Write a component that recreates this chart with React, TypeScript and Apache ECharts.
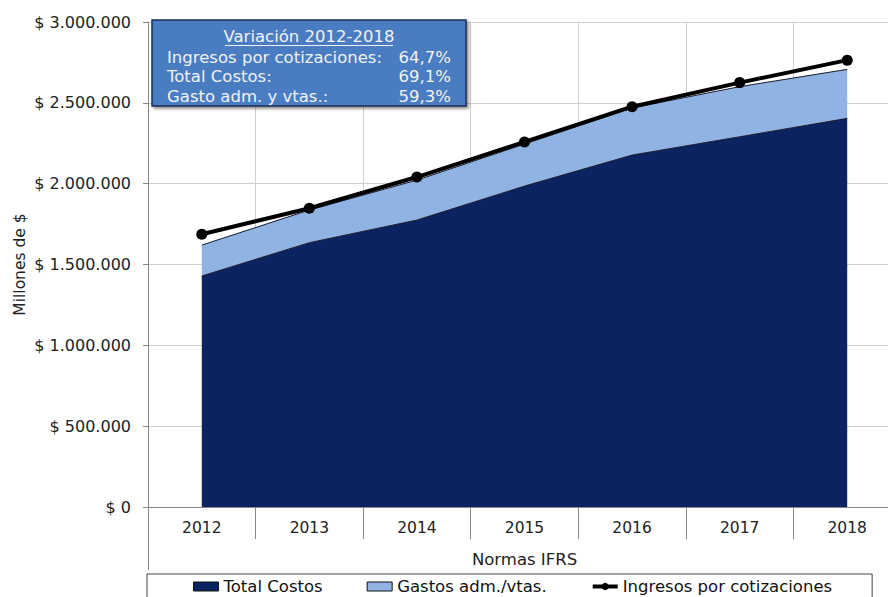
import React, { useEffect, useRef } from "react";
import * as echarts from "echarts";

const categories = ["2012", "2013", "2014", "2015", "2016", "2017", "2018"];
const totalCostos = [1429000, 1635000, 1775000, 1985000, 2177000, 2290000, 2404000];
const gastosAdm = [191000, 202000, 247000, 260000, 291000, 310000, 303000];
const ingresos = [1687000, 1848000, 2041000, 2258000, 2476000, 2625000, 2764000];
const boxTitle = "Variación 2012-2018";
const boxLabels = ["Ingresos por cotizaciones:", "Total Costos:", "Gasto adm. y vtas.:"];
const boxValues = ["64,7%", "69,1%", "59,3%"];

const FONT = "DejaVu Sans, Verdana, sans-serif";
const fmt = (v: number) => "$ " + String(v).replace(/\B(?=(\d{3})+(?!\d))/g, ".");

export default function App() {
  const ref = useRef<HTMLDivElement>(null);
  useEffect(() => {
    document.body.style.margin = "0";
    const chart = echarts.init(ref.current!, null, { renderer: "svg" });
    const boxRows: any[] = boxLabels.flatMap((l, i) => [
      {
        type: "text",
        x: 167,
        y: 57 + i * 19.5,
        style: { text: l, fill: "#f2f2f2", font: `16.5px ${FONT}`, textVerticalAlign: "middle" },
      },
      {
        type: "text",
        x: 451,
        y: 57 + i * 19.5,
        style: { text: boxValues[i], fill: "#f2f2f2", font: `16.5px ${FONT}`, textAlign: "right", textVerticalAlign: "middle" },
      },
    ]);
    chart.setOption({
      animation: false,
      grid: { left: 148, top: 22, width: 753, height: 485, containLabel: false, outerBoundsMode: "none" },
      xAxis: {
        type: "category",
        data: categories,
        boundaryGap: true,
        axisLine: { lineStyle: { color: "#868686", width: 1 } },
        axisTick: { show: true, interval: 0, length: 32, lineStyle: { color: "#868686" } },
        axisLabel: { interval: 0, margin: 13, color: "#222", fontSize: 15.5, fontFamily: FONT },
        splitLine: { show: true, interval: 0, lineStyle: { color: "#cfcfcf" } },
        name: "Normas IFRS",
        nameLocation: "middle",
        nameGap: 44,
        nameMoveOverlap: false,
        nameTextStyle: { color: "#222", fontSize: 16.5, fontFamily: FONT },
      },
      yAxis: {
        type: "value",
        min: 0,
        max: 3000000,
        interval: 500000,
        axisLine: { show: true, lineStyle: { color: "#868686" } },
        axisTick: { show: true, length: 5, lineStyle: { color: "#868686" } },
        axisLabel: { formatter: fmt, margin: 17, color: "#222", fontSize: 16, fontFamily: FONT },
        splitLine: { show: true, lineStyle: { color: "#cfcfcf" } },
        name: "Millones de $",
        nameLocation: "middle",
        nameGap: 120,
        nameMoveOverlap: false,
        nameTextStyle: { color: "#222", fontSize: 15.5, fontFamily: FONT },
      },
      legend: {
        left: 147,
        top: 574,
        padding: [4, 40, 10, 46],
        itemGap: 44,
        itemWidth: 25,
        itemHeight: 9,
        borderColor: "#444",
        borderWidth: 1,
        textStyle: { color: "#111", fontSize: 16.5, fontFamily: FONT },
        data: [
          { name: "Total Costos", icon: "rect", itemStyle: { borderColor: "#111", borderWidth: 1 } },
          { name: "Gastos adm./vtas.", icon: "rect", itemStyle: { borderColor: "#111", borderWidth: 1 } },
          { name: "Ingresos por cotizaciones", lineStyle: { width: 4 } },
        ],
      },
      series: [
        {
          name: "Total Costos",
          type: "line",
          stack: "costos",
          data: totalCostos,
          showSymbol: false,
          symbol: "none",
          color: "#0b2360",
          lineStyle: { color: "#1a1a2a", width: 1 },
          areaStyle: { color: "#0b2360", opacity: 1 },
        },
        {
          name: "Gastos adm./vtas.",
          type: "line",
          stack: "costos",
          data: gastosAdm,
          showSymbol: false,
          symbol: "none",
          color: "#8fb4e3",
          lineStyle: { color: "#1a1a2a", width: 1 },
          areaStyle: { color: "#8fb4e3", opacity: 1 },
        },
        {
          name: "Ingresos por cotizaciones",
          type: "line",
          data: ingresos,
          symbol: "circle",
          symbolSize: 11,
          color: "#000",
          lineStyle: { color: "#000", width: 4 },
          itemStyle: { color: "#000" },
          z: 5,
        },
      ],
      graphic: [
        { type: "line", shape: { x1: 148.5, y1: 507, x2: 148.5, y2: 570 }, style: { stroke: "#868686", lineWidth: 1 } },
        {
          type: "rect",
          shape: { x: 152, y: 20, width: 314, height: 86 },
          style: { fill: "#4a7cc0", stroke: "#1c2f52", lineWidth: 1.5, shadowBlur: 3, shadowOffsetX: 2, shadowOffsetY: 2, shadowColor: "rgba(0,0,0,0.45)" },
          z: 10,
        },
        {
          type: "text",
          x: 309,
          y: 36,
          z: 11,
          style: { text: boxTitle, fill: "#f2f2f2", font: `16.5px ${FONT}`, textAlign: "center", textVerticalAlign: "middle" },
        },
        { type: "line", z: 11, shape: { x1: 225, y1: 45.5, x2: 393, y2: 45.5 }, style: { stroke: "#f2f2f2", lineWidth: 1 } },
        ...boxRows.map((r) => ({ ...r, z: 11 })),
      ],
    });
    return () => chart.dispose();
  }, []);
  return <div ref={ref} style={{ width: 888, height: 597 }} />;
}
